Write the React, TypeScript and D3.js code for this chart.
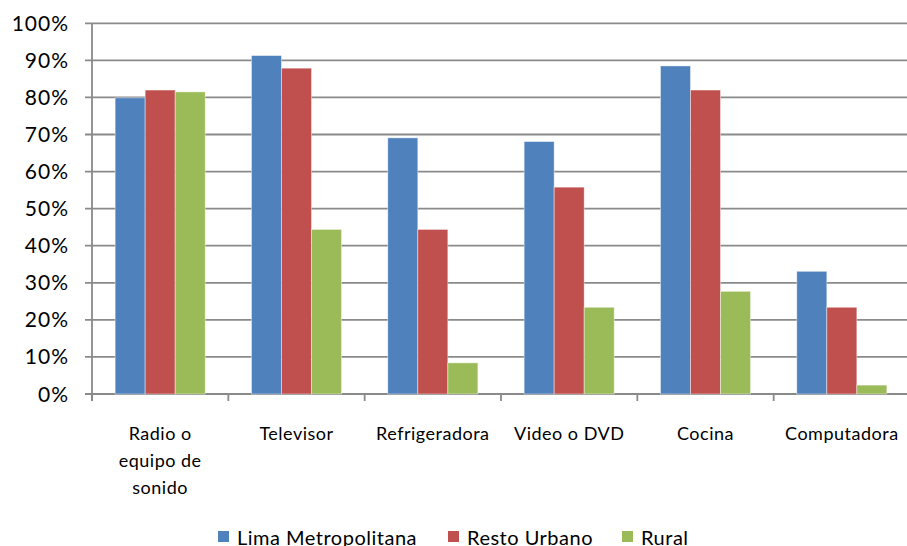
import React from "react";
import * as d3 from "d3";

const categories = [
  "Radio o equipo de sonido",
  "Televisor",
  "Refrigeradora",
  "Video o DVD",
  "Cocina",
  "Computadora",
];
const seriesNames = ["Lima Metropolitana", "Resto Urbano", "Rural"];
const limaValues = [79.9, 91.3, 69.1, 68.1, 88.5, 33.1];
const restoValues = [82.0, 87.9, 44.4, 55.8, 82.0, 23.4];
const ruralValues = [81.5, 44.4, 8.4, 23.4, 27.7, 2.4];
const yTicks = [0, 10, 20, 30, 40, 50, 60, 70, 80, 90, 100];
const colors = ["#4F81BD", "#C0504D", "#9BBB59"];

const W = 907;
const H = 546;
const FONT = "Lato, 'Open Sans', sans-serif";

function wrap(text: string, maxChars: number): string[] {
  const words = text.split(" ");
  const lines: string[] = [];
  let cur = "";
  for (const w of words) {
    const cand = cur ? cur + " " + w : w;
    if (cand.length > maxChars && cur) {
      lines.push(cur);
      cur = w;
    } else cur = cand;
  }
  if (cur) lines.push(cur);
  return lines;
}

export default function App() {
  const left = 92;
  const right = 910;
  const top = 23.3;
  const bottom = 394;
  const y = d3.scaleLinear().domain([0, 100]).range([bottom, top]);
  const x0 = d3.scaleBand<string>().domain(categories).range([left, right]).paddingInner(0).paddingOuter(0);
  const x1 = d3
    .scaleBand<string>()
    .domain(seriesNames)
    .range([0, x0.bandwidth()])
    .paddingInner(0)
    .paddingOuter(0.77);
  const values = [limaValues, restoValues, ruralValues];
  const grid = "#8a8a8a";

  const legendItems = [
    { name: seriesNames[0], x: 218 },
    { name: seriesNames[1], x: 448 },
    { name: seriesNames[2], x: 622 },
  ];

  return (
    <svg
      width={W}
      height={H}
      style={{ position: "absolute", left: 0, top: 0, background: "#fff" }}
      fontFamily={FONT}
    >
      {yTicks.map((t) => (
        <line key={"g" + t} x1={left - 7} x2={right} y1={y(t)} y2={y(t)} stroke={grid} strokeWidth={1.8} />
      ))}
      <line x1={left} x2={left} y1={top} y2={bottom + 7} stroke={grid} strokeWidth={1.8} />
      {yTicks.map((t) => (
        <text
          key={"yl" + t}
          x={69}
          y={y(t)}
          dy="0.36em"
          textAnchor="end"
          fontSize={21}
          letterSpacing={1}
          fill="#000"
        >
          {t + "%"}
        </text>
      ))}
      {categories.map((c) => (
        <line key={"t" + c} x1={x0(c)!} x2={x0(c)!} y1={bottom} y2={bottom + 7} stroke={grid} strokeWidth={1.8} />
      ))}
      {categories.map((c, ci) =>
        seriesNames.map((s, si) => (
          <rect
            key={c + s}
            x={x0(c)! + x1(s)!}
            y={y(values[si][ci])}
            width={x1.bandwidth()}
            height={bottom - y(values[si][ci])}
            fill={colors[si]}
            stroke="rgba(255,255,255,0.55)"
            strokeWidth={0.8}
          />
        ))
      )}
      {categories.map((c) =>
        wrap(c, 12).map((line, li) => (
          <text
            key={c + li}
            x={x0(c)! + x0.bandwidth() / 2}
            y={440 + li * 27}
            textAnchor="middle"
            fontSize={18}
            letterSpacing={0.5}
            fill="#000"
          >
            {line}
          </text>
        ))
      )}
      {legendItems.map((it, i) => (
        <g key={it.name}>
          <rect x={it.x} y={531} width={11} height={11} fill={colors[i]} />
          <text x={it.x + 19} y={545} fontSize={20} letterSpacing={0.5} fill="#000">
            {it.name}
          </text>
        </g>
      ))}
    </svg>
  );
}
